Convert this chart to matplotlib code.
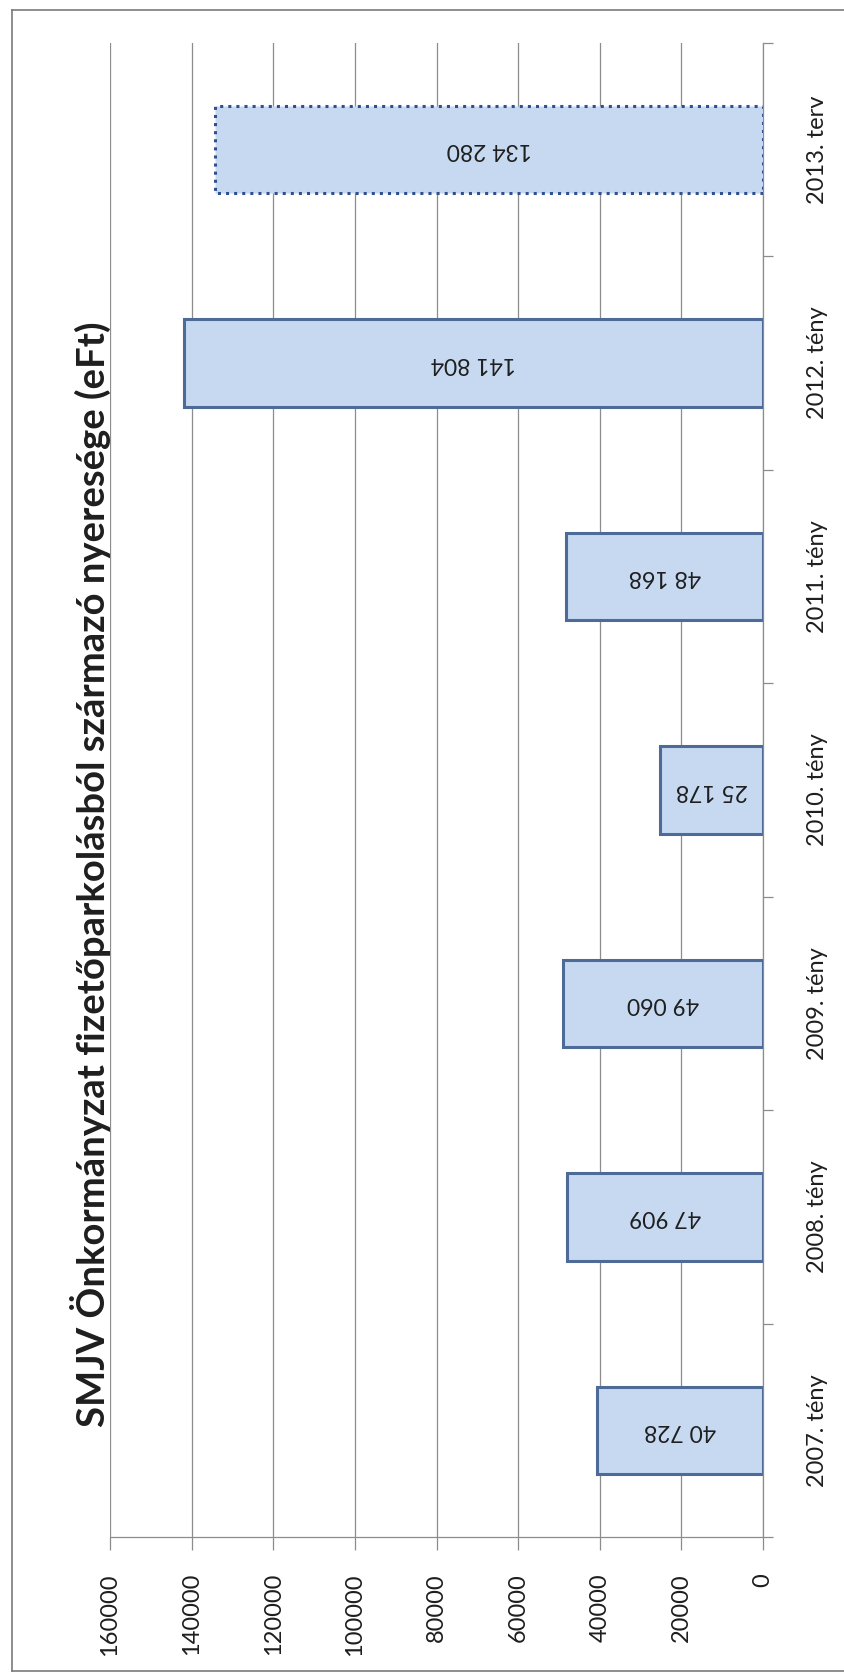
import matplotlib
matplotlib.use("Agg")
import matplotlib.pyplot as plt
from matplotlib.lines import Line2D

plt.rcParams["font.family"] = ["Lato", "DejaVu Sans"]

# data
categories = ["2007. tény", "2008. tény", "2009. tény", "2010. tény",
              "2011. tény", "2012. tény", "2013. terv"]
values = [40728, 47909, 49060, 25178, 48168, 141804, 134280]
planned = [False, False, False, False, False, False, True]
value_ticks = [0, 20000, 40000, 60000, 80000, 100000, 120000, 140000, 160000]
title = "SMJV Önkormányzat fizetőparkolásból származó nyeresége (eFt)"

FILL = "#C6D9F1"
EDGE = "#4E6A96"
GRID = "#8C8C8C"
TEXT = "#1E1E1E"

W, H = 844, 1673
fig = plt.figure(figsize=(W / 100, H / 100), dpi=100)
ax = fig.add_axes([110 / W, 1 - 1537 / H, (763 - 110) / W, (1537 - 43) / H])

pos = list(range(len(categories)))
for p, v, plan in zip(pos, values, planned):
    ax.barh(p, v, height=0.41, color=FILL,
            edgecolor="#2F4F8F" if plan else EDGE,
            linewidth=2.2, linestyle=":" if plan else "-", zorder=3)
    # labels in the scan are upside down
    ax.text(v / 2, p, f"{v:,}".replace(",", " "), rotation=180,
            ha="center", va="center", fontsize=16.5, color=TEXT, zorder=4)

ax.set_xlim(160000, 0)
ax.set_ylim(-0.5, len(categories) - 0.5)

ax.set_xticks(value_ticks)
ax.set_xticklabels([str(t) for t in value_ticks], rotation=90, fontsize=17,
                   color=TEXT)
ax.tick_params(axis="x", length=9, width=0.9, color=GRID, pad=17)

ax.yaxis.set_ticks_position("right")
ax.set_yticks(pos)
ax.set_yticklabels(categories, rotation=90, va="center", ha="left",
                   fontsize=17, color=TEXT)
ax.set_yticks([p - 0.5 for p in pos] + [len(pos) - 0.5], minor=True)
ax.tick_params(axis="y", which="major", length=0, pad=32)
ax.tick_params(axis="y", which="minor", length=7, width=0.9, color=GRID)

ax.grid(axis="x", color=GRID, linewidth=0.9)
ax.set_axisbelow(True)
for side in ("top", "left"):
    ax.spines[side].set_visible(False)
for side in ("right", "bottom"):
    ax.spines[side].set_color(GRID)
    ax.spines[side].set_linewidth(0.9)

fig.text(90 / W, 1 - 874 / H, title, rotation=90, ha="center", va="center",
         fontsize=27.5, fontweight="bold", color=TEXT)

# frame of the scanned chart
for xs, ys in [((12 / W, 12 / W), (1 - 10 / H, 1 - 1671 / H)),
               ((12 / W, 1.0), (1 - 10 / H, 1 - 10 / H)),
               ((12 / W, 1.0), (1 - 1671 / H, 1 - 1671 / H))]:
    fig.add_artist(Line2D(xs, ys, color="#7A7A7A", linewidth=1.2))

fig.savefig("out.png", dpi=100)
